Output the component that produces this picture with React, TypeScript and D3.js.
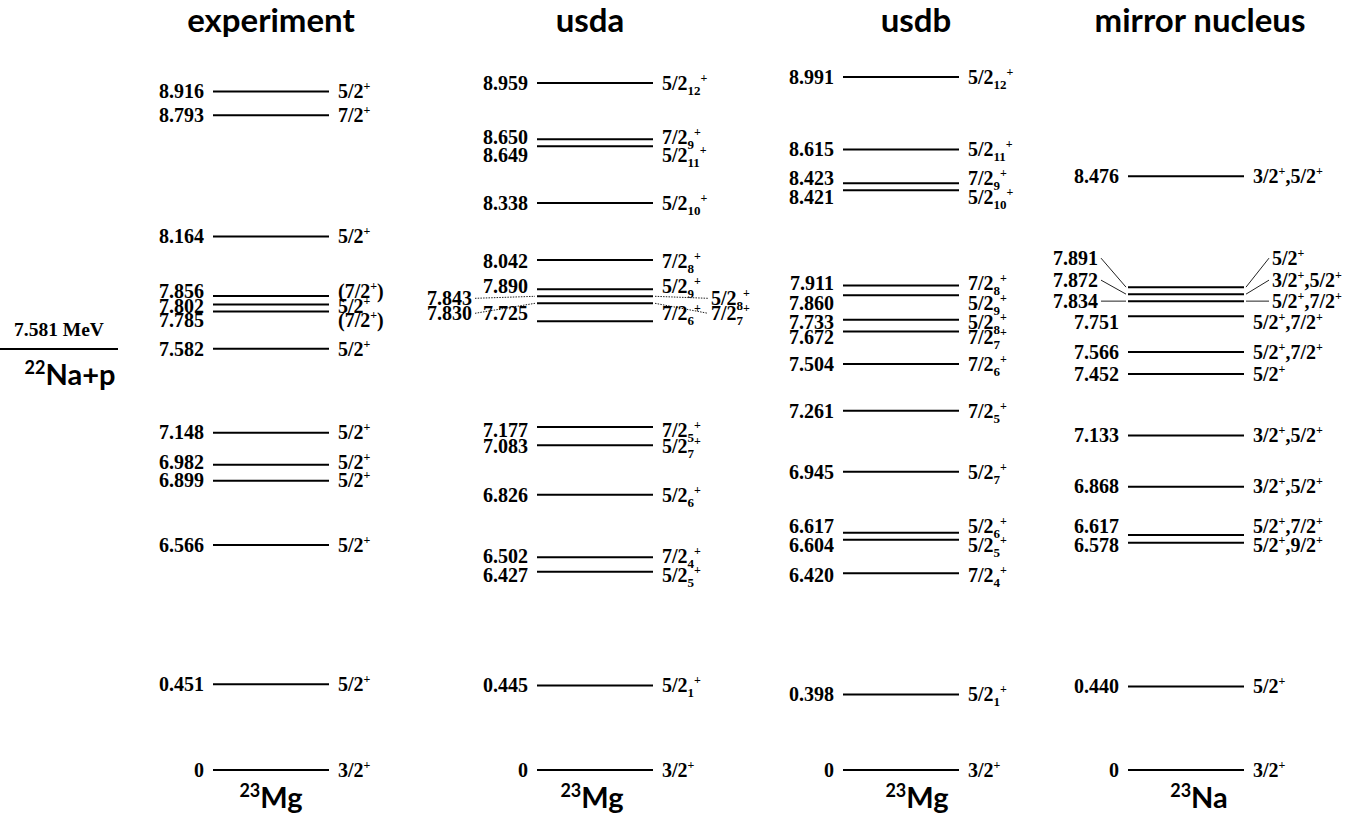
import React from "react";
import * as d3 from "d3";

// ---- data ----
const titles = ["experiment", "usda", "usdb", "mirror nucleus"];
const massNumbers = ["23", "23", "23", "23"];
const symbols = ["Mg", "Mg", "Mg", "Na"];

const expEnergy = [8.916, 8.793, 8.164, 7.856, 7.802, 7.785, 7.582, 7.148, 6.982, 6.899, 6.566, 0.451, 0];
const expSpin = ["5/2+", "7/2+", "5/2+", "(7/2+)", "5/2+", "(7/2+)", "5/2+", "5/2+", "5/2+", "5/2+", "5/2+", "5/2+", "3/2+"];

const usdaEnergy = [8.959, 8.65, 8.649, 8.338, 8.042, 7.89, 7.843, 7.83, 7.725, 7.177, 7.083, 6.826, 6.502, 6.427, 0.445, 0];
const usdaSpin = ["5/2_12+", "7/2_9+", "5/2_11+", "5/2_10+", "7/2_8+", "5/2_9+", "5/2_8+", "7/2_7+", "7/2_6+", "7/2_5+", "5/2_7+", "5/2_6+", "7/2_4+", "5/2_5+", "5/2_1+", "3/2+"];

const usdbEnergy = [8.991, 8.615, 8.423, 8.421, 7.911, 7.86, 7.733, 7.672, 7.504, 7.261, 6.945, 6.617, 6.604, 6.42, 0.398, 0];
const usdbSpin = ["5/2_12+", "5/2_11+", "7/2_9+", "5/2_10+", "7/2_8+", "5/2_9+", "5/2_8+", "7/2_7+", "7/2_6+", "7/2_5+", "5/2_7+", "5/2_6+", "5/2_5+", "7/2_4+", "5/2_1+", "3/2+"];

const mirrorEnergy = [8.476, 7.891, 7.872, 7.834, 7.751, 7.566, 7.452, 7.133, 6.868, 6.617, 6.578, 0.44, 0];
const mirrorSpin = ["3/2+,5/2+", "5/2+", "3/2+,5/2+", "5/2+,7/2+", "5/2+,7/2+", "5/2+,7/2+", "5/2+", "3/2+,5/2+", "3/2+,5/2+", "5/2+,7/2+", "5/2+,9/2+", "5/2+", "3/2+"];

const thresholdEnergy = 7.581;
const thresholdLabel = "7.581 MeV";
const channelMass = "22";
const channelText = "Na+p";

// ---- layout ----
const SERIF = "'Liberation Serif', 'Times New Roman', serif";
const SANS = "Lato, 'Open Sans', sans-serif";
const LINE_W = 116;
const LINE_GAP = 7;

// text nudges keep crowded labels legible
const expShift = [0, 0, 0, -5, 1.5, 8.5, 0, 0, -2, 0, 0, 0, 0];
const usdaShift = [0, -2.5, 8.5, 0, 1, -3, 2, 10, -8, 3, 1, 0, -1, 3, 0, 0];
const usdbShift = [0, 0, -5, 7, -2, 8, 2, 5.5, 0, 0, 0, -7, 5, 2, 0, 0];
const mirrorShift = [0, -29, -14, 0, 6, 0, 0, 0, 0, -9, 3, 0, 0];

type Callout = { idx: number[]; left: number; right: number; dotted: boolean };

const columns = [
  { energy: expEnergy, spin: expSpin, shift: expShift, lineX: 213, titleX: 271, nucX: 271, callout: null as Callout | null },
  { energy: usdaEnergy, spin: usdaSpin, shift: usdaShift, lineX: 537, titleX: 590, nucX: 592, callout: { idx: [6, 7], left: 65, right: 58, dotted: true } },
  { energy: usdbEnergy, spin: usdbSpin, shift: usdbShift, lineX: 843, titleX: 916, nucX: 917, callout: null as Callout | null },
  { energy: mirrorEnergy, spin: mirrorSpin, shift: mirrorShift, lineX: 1128, titleX: 1200, nucX: 1199, callout: { idx: [1, 2, 3], left: 30, right: 28, dotted: false } },
];

// broken energy axis: excited region and low-lying region
const upperY = d3.scaleLinear().domain([6, 9]).range([654.2, 75.2]);
const lowerY = d3.scaleLinear().domain([0, 1]).range([770, 580]);
const yOf = (e: number) => (e >= 5 ? upperY(e) : lowerY(e));

const fmtE = (e: number) => (e === 0 ? "0" : d3.format(".3f")(e));

// push nearly-degenerate levels apart, keeping each cluster centred
function spread(ys: number[], gap: number): number[] {
  type G = { first: number; n: number; adj: number; top: number };
  const groups: G[] = [];
  ys.forEach((y, i) => {
    groups.push({ first: i, n: 1, adj: y, top: y });
    while (groups.length > 1) {
      const b = groups[groups.length - 1];
      const a = groups[groups.length - 2];
      if (a.top + a.n * gap > b.top) {
        const adj = a.adj + b.adj - b.n * a.n * gap;
        const n = a.n + b.n;
        groups.splice(groups.length - 2, 2, { first: a.first, n, adj, top: adj / n });
      } else break;
    }
  });
  const out = new Array(ys.length);
  groups.forEach((g) => {
    for (let k = 0; k < g.n; k++) out[g.first + k] = g.top + k * gap;
  });
  return out;
}

type Seg = { t: string; k: "n" | "sub" | "sup" };
function parseSpin(s: string): Seg[] {
  const segs: Seg[] = [];
  const re = /_(\d+)|(\+)|([^_+]+)/g;
  let m: RegExpExecArray | null;
  while ((m = re.exec(s))) {
    if (m[1]) segs.push({ t: m[1], k: "sub" });
    else if (m[2]) segs.push({ t: m[2], k: "sup" });
    else segs.push({ t: m[3], k: "n" });
  }
  return segs;
}

const FS = 20;
const BASE = 6.8;

function SpinText({ x, y, label }: { x: number; y: number; label: string }) {
  let cur = 0;
  const segs = parseSpin(label);
  return (
    <text x={x} y={y + BASE} fontFamily={SERIF} fontWeight={700} fontSize={FS} fill="#000">
      {segs.map((s, i) => {
        const target = s.k === "sub" ? 5 : s.k === "sup" ? -8 : 0;
        const dy = target - cur;
        cur = target;
        return (
          <tspan key={i} dy={dy} fontSize={s.k === "n" ? FS : s.k === "sub" ? 13 : 12}>
            {s.t}
          </tspan>
        );
      })}
    </text>
  );
}

function Column({ col, ci }: { col: (typeof columns)[number]; ci: number }) {
  const natural = col.energy.map(yOf);
  const ys = spread(natural, LINE_GAP);
  const x0 = col.lineX;
  const x1 = col.lineX + LINE_W;
  const co = col.callout;
  return (
    <g>
      <text x={col.titleX} y={32} textAnchor="middle" fontFamily={SANS} fontWeight={700} fontSize={33}>
        {titles[ci]}
      </text>
      {col.energy.map((e, i) => {
        const y = ys[i];
        const ly = y + col.shift[i];
        const isCallout = co ? co.idx.includes(i) : false;
        const leftX = isCallout ? x0 - co!.left : x0 - 9;
        const rightX = isCallout ? x1 + co!.right : x1 + 9;
        const dash = co && co.dotted ? "1.5 1.2" : undefined;
        return (
          <g key={i}>
            <line x1={x0} x2={x1} y1={y} y2={y} stroke="#000" strokeWidth={2} />
            {isCallout && (
              <>
                <line x1={leftX + 3} y1={ly} x2={x0 - 2} y2={y} stroke="#222" strokeWidth={1} strokeDasharray={dash} />
                <line x1={x1 + 2} y1={y} x2={rightX - 3} y2={ly} stroke="#222" strokeWidth={1} strokeDasharray={dash} />
              </>
            )}
            <text x={leftX} y={ly + BASE} textAnchor="end" fontFamily={SERIF} fontWeight={700} fontSize={FS}>
              {fmtE(e)}
            </text>
            <SpinText x={rightX} y={ly} label={col.spin[i]} />
          </g>
        );
      })}
      <text x={col.nucX} y={808} textAnchor="middle" fontFamily={SANS} fontWeight={700} fontSize={29}>
        <tspan fontSize={18} dy={-11}>
          {massNumbers[ci]}
        </tspan>
        <tspan dy={11}>{symbols[ci]}</tspan>
      </text>
    </g>
  );
}

export default function App() {
  const ty = upperY(thresholdEnergy);
  return (
    <svg
      width={1370}
      height={818}
      viewBox="0 0 1370 818"
      style={{ position: "absolute", left: 0, top: 0, background: "#fff" }}
    >
      <rect width={1370} height={818} fill="#fff" />
      <text x={59} y={ty - 13} textAnchor="middle" fontFamily={SERIF} fontWeight={700} fontSize={19.5}>
        {thresholdLabel}
      </text>
      <line x1={0} x2={118} y1={ty} y2={ty} stroke="#000" strokeWidth={2} />
      <text x={70} y={ty + 36} textAnchor="middle" fontFamily={SANS} fontWeight={700} fontSize={29}>
        <tspan fontSize={18} dy={-11}>
          {channelMass}
        </tspan>
        <tspan dy={11}>{channelText}</tspan>
      </text>
      {columns.map((c, i) => (
        <Column key={i} col={c} ci={i} />
      ))}
    </svg>
  );
}
